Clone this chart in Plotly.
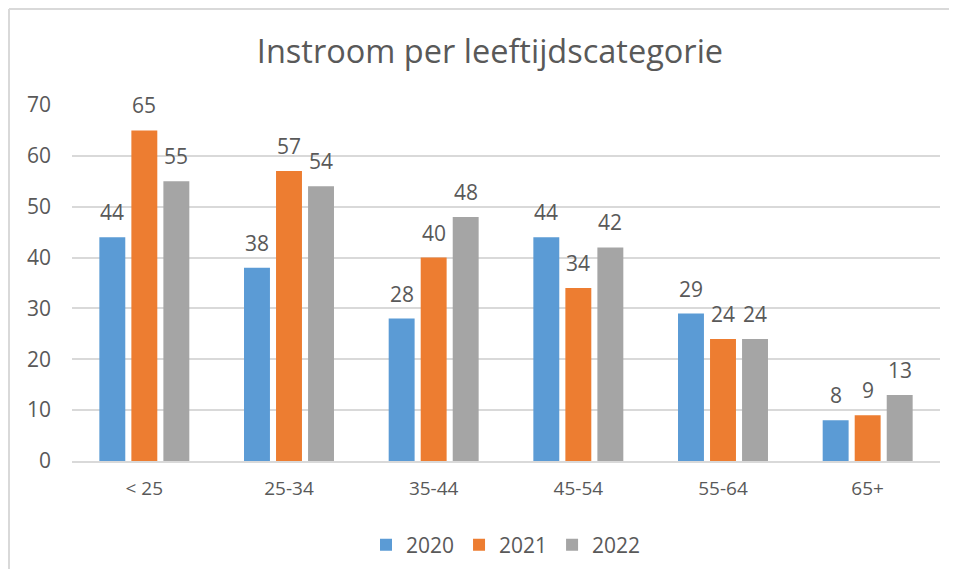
import plotly.graph_objects as go

categories = ["< 25", "25-34", "35-44", "45-54", "55-64", "65+"]
v2020 = [44, 38, 28, 44, 29, 8]
v2021 = [65, 57, 40, 34, 24, 9]
v2022 = [55, 54, 48, 42, 24, 13]
series_names = ["2020", "2021", "2022"]
colors = ["#5B9BD5", "#ED7D31", "#A5A5A5"]

# page body has an 8px margin; figure sized to fit inside the window
W, H = 941, 561
L, R, T, B = 64, 9, 97, 108
pw, ph = W - L - R, H - T - B
FONT = "Open Sans"
GREY = "#595959"
BARGAP = 0.336

series = [v2020, v2021, v2022]
fig = go.Figure()
for name, vals, c in zip(series_names, series, colors):
    fig.add_trace(go.Bar(
        x=categories, y=vals, name=name, marker=dict(color=c, line=dict(width=0)),
    ))

# data labels placed above each bar
cat_w = pw / len(categories)
slot = cat_w * (1 - BARGAP) / len(series)
for i, vals in enumerate(series):
    for cat, v in zip(categories, vals):
        fig.add_annotation(x=cat, y=v, text=str(v), showarrow=False,
                           xshift=(i - 1) * slot, yshift=25, yanchor="middle",
                           font=dict(family=FONT, size=21, color=GREY))

fig.update_layout(
    width=W, height=H,
    margin=dict(l=L, r=R, t=T, b=B, autoexpand=False),
    paper_bgcolor="white", plot_bgcolor="white",
    barmode="group", bargap=BARGAP, bargroupgap=0.19,
    title=dict(text="Instroom per leeftijdscategorie", x=482 / W, xanchor="center",
               y=1 - 44 / H, yanchor="middle",
               font=dict(family=FONT, size=32.5, color=GREY)),
    font=dict(family=FONT, color=GREY, size=19),
    yaxis=dict(range=[0, 70], dtick=10, showgrid=True, gridcolor="#D9D9D9", gridwidth=2,
               zeroline=False, showline=False, ticks="", ticklabelstandoff=20,
               tickfont=dict(size=21, color=GREY)),
    xaxis=dict(showline=True, linecolor="#D9D9D9", linewidth=2, ticks="",
               tickfont=dict(size=19, color=GREY), ticklabelstandoff=9),
    legend=dict(orientation="h", x=0.5, xanchor="center",
                yref="container", y=1 - 537 / H, yanchor="middle",
                font=dict(size=21, color=GREY), itemwidth=30, traceorder="normal"),
    showlegend=True,
)

# chart frame: only top and left edges visible in the cropped original
fig.add_shape(type="line", xref="paper", yref="paper",
              x0=(-L + 1) / pw, x1=(W - L) / pw, y0=(H - B - 1) / ph, y1=(H - B - 1) / ph,
              line=dict(color="#D9D9D9", width=2), layer="below")
fig.add_shape(type="line", xref="paper", yref="paper",
              x0=(-L + 1) / pw, x1=(-L + 1) / pw, y0=-B / ph, y1=(H - B - 1) / ph,
              line=dict(color="#D9D9D9", width=2), layer="below")

fig.write_html("out.html")
